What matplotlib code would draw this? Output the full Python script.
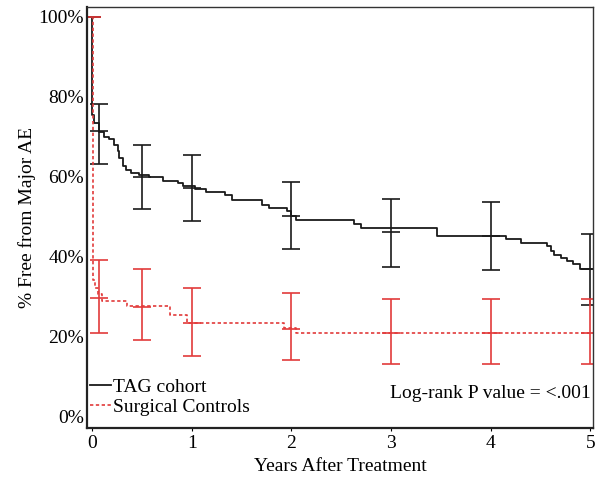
import matplotlib.pyplot as plt
import numpy as np
from matplotlib.ticker import FuncFormatter

plt.rcParams['font.family'] = ['Liberation Serif', 'DejaVu Serif']
plt.rcParams['font.size'] = 14

# Kaplan-Meier steps (years, % free)
tag_t = [0, 0.005, 0.025, 0.075, 0.125, 0.175, 0.225, 0.26, 0.275, 0.31, 0.34, 0.39,
         0.47, 0.57, 0.71, 0.86, 0.91, 1.03, 1.14, 1.33, 1.40, 1.71, 1.78, 1.96, 2.0,
         2.05, 2.63, 2.70, 3.46, 4.15, 4.30, 4.56, 4.60, 4.63, 4.70, 4.76, 4.83, 4.90, 5.03]
tag_s = [100, 75.5, 73.5, 71.3, 70.0, 69.3, 68.0, 66.3, 64.7, 62.6, 61.7, 60.9,
         60.5, 59.8, 59.0, 58.4, 57.6, 56.9, 56.1, 55.5, 54.2, 53.0, 52.2, 51.3, 50.1,
         49.1, 48.0, 47.1, 45.1, 44.3, 43.4, 42.5, 41.3, 40.4, 39.6, 38.9, 38.2, 36.9, 36.9]

ctl_t = [0, 0.012, 0.03, 0.06, 0.10, 0.35, 0.78, 0.95, 1.93, 2.05, 5.03]
ctl_s = [100, 34.0, 32.0, 30.5, 28.8, 27.6, 25.4, 23.2, 22.0, 20.7, 20.7]

# error bars: time, estimate, lower, upper
tag_eb_t = [0, 0.07, 0.5, 1, 2, 3, 4, 5]
tag_eb_c = [100, 71.5, 60.0, 57.2, 50.2, 46.0, 45.1, 36.9]
tag_eb_lo = [100, 63.2, 51.8, 48.8, 41.9, 37.4, 36.5, 27.8]
tag_eb_hi = [100, 78.2, 68.0, 65.3, 58.6, 54.4, 53.6, 45.7]

ctl_eb_t = [0, 0.07, 0.5, 1, 2, 3, 4, 5]
ctl_eb_c = [100, 29.7, 27.4, 23.2, 21.8, 20.7, 20.7, 20.7]
ctl_eb_lo = [100, 20.8, 19.0, 15.1, 14.1, 13.0, 13.0, 13.0]
ctl_eb_hi = [100, 39.0, 36.8, 32.0, 30.8, 29.4, 29.4, 29.4]

black = '#1a1a1a'
red = '#e23b3b'

fig = plt.figure(figsize=(5.97, 4.8), dpi=100)
ax = fig.add_axes([0.1457, 0.1083, 0.8483, 0.8771])

ax.step(tag_t, tag_s, where='post', color=black, lw=1.3, label='TAG cohort')
c = np.array(tag_eb_c)
ax.errorbar(tag_eb_t, c, yerr=[c - np.array(tag_eb_lo), np.array(tag_eb_hi) - c],
            fmt='_', ms=13, mew=1.2, color=black, ecolor=black,
            elinewidth=1.2, capsize=6.5, capthick=1.2)

ax.step(ctl_t, ctl_s, where='post', color=red, lw=1.2, ls=(0, (2, 1.5)),
        label='Surgical Controls')
c = np.array(ctl_eb_c)
ax.errorbar(ctl_eb_t, c, yerr=[c - np.array(ctl_eb_lo), np.array(ctl_eb_hi) - c],
            fmt='_', ms=13, mew=1.2, color=red, ecolor=red,
            elinewidth=1.2, capsize=6.5, capthick=1.2)

ax.set_xlim(-0.05, 5.03)
ax.set_ylim(-3, 102.5)
ax.set_xticks([0, 1, 2, 3, 4, 5])
ax.set_yticks([0, 20, 40, 60, 80, 100])
ax.yaxis.set_major_formatter(FuncFormatter(lambda v, p: f'{int(v)}%'))
ax.tick_params(axis='x', length=2, pad=3)
ax.tick_params(axis='y', length=0, pad=2)

for s in ['left', 'bottom']:
    ax.spines[s].set_linewidth(1.6)
    ax.spines[s].set_color('#222222')
for s in ['top', 'right']:
    ax.spines[s].set_linewidth(1.0)
    ax.spines[s].set_color('#333333')

ax.set_xlabel('Years After Treatment', labelpad=4)
ax.set_ylabel('% Free from Major AE', labelpad=2)

ax.legend(loc='lower left', bbox_to_anchor=(0.005, 0.028), frameon=False,
          borderpad=0, borderaxespad=0, handlelength=1.1, handletextpad=0.1,
          labelspacing=0.12)
ax.text(5.0, 5.6, 'Log-rank P value = <.001', ha='right', va='center')

fig.savefig('out.png', dpi=100)
